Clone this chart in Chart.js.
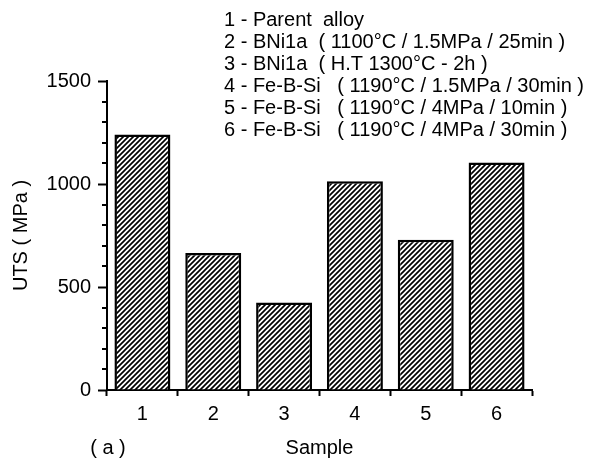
<!DOCTYPE html>
<html lang="en">
<head>
  <meta charset="UTF-8" />
  <title>UTS by sample</title>
  <script src="https://cdn.jsdelivr.net/npm/chart.js"></script>
  <style>
    body { margin: 0; background: #fff; }
    canvas { display: block; }
  </style>
</head>
<body>
  <canvas id="chart" width="592" height="461"></canvas>

  <script>
    const samples = ['1', '2', '3', '4', '5', '6'];
    const utsValues = [1240, 665, 425, 1013, 729, 1104];
    const sampleNotes = [
      '1 - Parent  alloy',
      '2 - BNi1a  ( 1100°C / 1.5MPa / 25min )',
      '3 - BNi1a  ( H.T 1300°C - 2h )',
      '4 - Fe-B-Si   ( 1190°C / 1.5MPa / 30min )',
      '5 - Fe-B-Si   ( 1190°C / 4MPa / 10min )',
      '6 - Fe-B-Si   ( 1190°C / 4MPa / 30min )'
    ];
    const yMax = 1500;
    const yMajorStep = 500;
    const yMinorStep = 100;

    const FONT = '"Liberation Sans", Arial, sans-serif';

    // diagonal hatch fill like the printed figure
    function makeHatch() {
      const s = 5;
      const tile = document.createElement('canvas');
      tile.width = s;
      tile.height = s;
      const t = tile.getContext('2d');
      t.fillStyle = '#fff';
      t.fillRect(0, 0, s, s);
      t.strokeStyle = '#000';
      t.lineWidth = 1.7;
      t.beginPath();
      t.moveTo(-1, s + 1); t.lineTo(s + 1, -1);
      t.moveTo(-1, 1); t.lineTo(1, -1);
      t.moveTo(s - 1, s + 1); t.lineTo(s + 1, s - 1);
      t.stroke();
      return t.createPattern(tile, 'repeat');
    }

    const extras = {
      id: 'extras',
      afterDraw(chart) {
        const { ctx } = chart;
        const y = chart.scales.y;
        ctx.save();
        // minor ticks on the y axis
        ctx.strokeStyle = '#000';
        ctx.lineWidth = 2;
        ctx.beginPath();
        for (let v = 0; v <= yMax; v += yMinorStep) {
          if (v % yMajorStep === 0) continue;
          const py = Math.round(y.getPixelForValue(v));
          ctx.moveTo(y.right - 5, py);
          ctx.lineTo(y.right, py);
        }
        ctx.stroke();

        // sample key, top right
        ctx.fillStyle = '#000';
        ctx.font = '20px ' + FONT;
        ctx.textAlign = 'left';
        ctx.textBaseline = 'alphabetic';
        sampleNotes.forEach((line, i) => {
          ctx.fillText(line, 224, 26 + i * 22);
        });

        // panel label
        ctx.font = '20px ' + FONT;
        ctx.textAlign = 'center';
        ctx.textBaseline = 'middle';
        ctx.fillText('( a )', 108, 448);
        ctx.restore();
      }
    };

    new Chart(document.getElementById('chart'), {
      type: 'bar',
      data: {
        labels: samples,
        datasets: [{
          data: utsValues,
          backgroundColor: makeHatch(),
          borderColor: '#000',
          borderWidth: 2.5,
          borderSkipped: 'bottom',
          barPercentage: 0.79,
          categoryPercentage: 1
        }]
      },
      options: {
        responsive: false,
        animation: false,
        layout: { padding: { top: 81, right: 60, left: 0, bottom: 0 } },
        plugins: {
          legend: { display: false },
          tooltip: { enabled: false }
        },
        scales: {
          x: {
            grid: { offset: true, drawOnChartArea: false, tickLength: 6, tickWidth: 2, tickColor: '#000' },
            border: { color: '#000', width: 2 },
            ticks: { color: '#000', font: { family: FONT, size: 20 }, padding: 6 },
            title: { display: true, text: 'Sample', color: '#000', font: { family: FONT, size: 20 }, padding: { top: 0, bottom: 1 } },
            afterFit: s => { s.height = 71; }
          },
          y: {
            min: 0,
            max: yMax,
            ticks: {
              stepSize: yMinorStep,
              autoSkip: false,
              color: '#000',
              font: { family: FONT, size: 20 },
              padding: 7,
              callback: v => (v % yMajorStep === 0 ? v : '')
            },
            grid: {
              drawOnChartArea: false,
              tickLength: 9,
              tickWidth: 2,
              tickColor: c => (c.tick && c.tick.value % yMajorStep === 0 ? '#000' : 'rgba(0,0,0,0)')
            },
            border: { color: '#000', width: 2 },
            title: { display: true, text: 'UTS ( MPa )', color: '#000', font: { family: FONT, size: 20 }, padding: { top: 9, bottom: 0 } },
            afterFit: s => { s.width = 107; }
          }
        }
      },
      plugins: [extras]
    });
  </script>
</body>
</html>
